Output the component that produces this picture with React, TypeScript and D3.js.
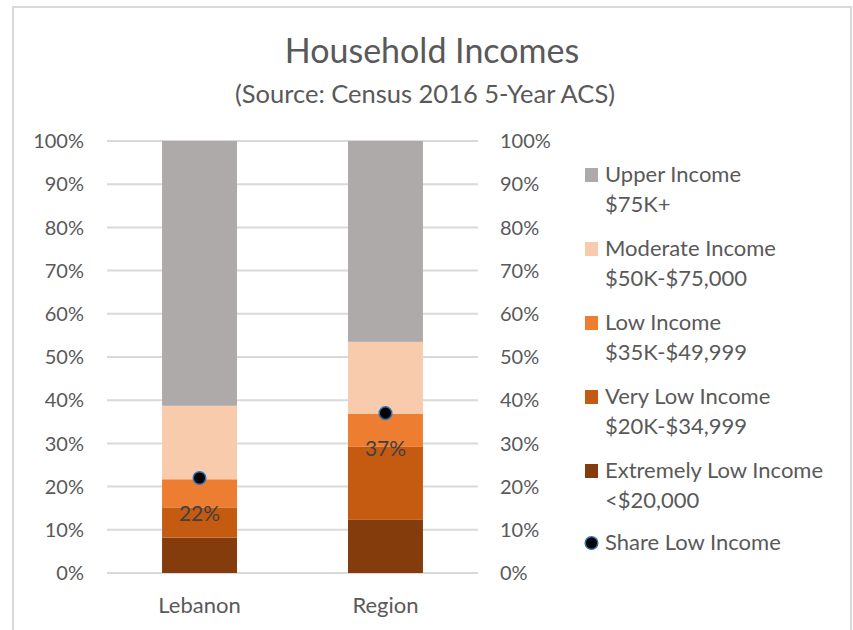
import { useEffect, useRef } from 'react'
import * as d3 from 'd3'

const W = 853
const H = 630
const MARGIN = { top: 141, left: 107, right: 375, bottom: 57 }

const CATEGORIES = ['Lebanon', 'Region']
const SERIES = ['Extremely Low Income', 'Very Low Income', 'Low Income', 'Moderate Income', 'Upper Income']
const SUBLABELS = ['<$20,000', '$20K-$34,999', '$35K-$49,999', '$50K-$75,000', '$75K+']
const COLORS = ['#843C0C', '#C55A11', '#ED7D31', '#F8CBAD', '#AEAAAA']
// share of households per band, per category (percent)
const EXTREMELY_LOW = [8.2, 12.3]
const VERY_LOW = [7.0, 16.9]
const LOW = [6.5, 7.7]
const MODERATE = [17.0, 16.6]
const UPPER = [61.3, 46.5]
const SHARE_LOW = [22, 37]
const Y_TICKS = [0, 10, 20, 30, 40, 50, 60, 70, 80, 90, 100]

const FONT = 'Lato, "Open Sans", sans-serif'
const TEXT = '#595959'

export default function App() {
  const svgRef = useRef<SVGSVGElement>(null)

  useEffect(() => {
    const svg = d3.select(svgRef.current)
    svg.selectAll('*').remove()

    const iW = W - MARGIN.left - MARGIN.right
    const iH = H - MARGIN.top - MARGIN.bottom

    const rows = CATEGORIES.map((c, i) => ({
      cat: c,
      [SERIES[0]]: EXTREMELY_LOW[i],
      [SERIES[1]]: VERY_LOW[i],
      [SERIES[2]]: LOW[i],
      [SERIES[3]]: MODERATE[i],
      [SERIES[4]]: UPPER[i],
    }))
    const stacked = d3.stack<any>().keys(SERIES)(rows)

    const x = d3.scaleBand().domain(CATEGORIES).range([0, iW]).paddingInner(0.597).paddingOuter(0.296)
    const y = d3.scaleLinear().domain([0, 100]).range([iH, 0])

    // frame
    svg.append('rect')
      .attr('x', 13).attr('y', 7).attr('width', 838).attr('height', 640)
      .attr('fill', '#fff').attr('stroke', '#d9d9d9').attr('stroke-width', 2)

    // titles
    svg.append('text')
      .attr('x', 432).attr('y', 63).attr('text-anchor', 'middle')
      .attr('font-family', FONT).attr('font-size', 34).attr('fill', TEXT)
      .text('Household Incomes')
    svg.append('text')
      .attr('x', 425).attr('y', 103).attr('text-anchor', 'middle')
      .attr('font-family', FONT).attr('font-size', 25.5).attr('fill', TEXT)
      .text('(Source: Census 2016 5-Year ACS)')

    const g = svg.append('g').attr('transform', `translate(${MARGIN.left},${MARGIN.top})`)

    // gridlines
    g.selectAll('line.grid').data(Y_TICKS).join('line')
      .attr('class', 'grid')
      .attr('x1', 0).attr('x2', iW)
      .attr('y1', d => y(d)).attr('y2', d => y(d))
      .attr('stroke', '#d9d9d9').attr('stroke-width', 2)

    // left & right axis labels
    const fmt = (d: number) => `${d}%`
    g.selectAll('text.yl').data(Y_TICKS).join('text')
      .attr('class', 'yl')
      .attr('x', -23).attr('y', d => y(d)).attr('dy', '0.36em')
      .attr('text-anchor', 'end')
      .attr('font-family', FONT).attr('font-size', 20).attr('fill', TEXT)
      .text(fmt)
    g.selectAll('text.yr').data(Y_TICKS).join('text')
      .attr('class', 'yr')
      .attr('x', iW + 22).attr('y', d => y(d)).attr('dy', '0.36em')
      .attr('text-anchor', 'start')
      .attr('font-family', FONT).attr('font-size', 20).attr('fill', TEXT)
      .text(fmt)

    // stacked bars
    stacked.forEach((s, si) => {
      g.selectAll(`rect.s${si}`).data(s).join('rect')
        .attr('class', `s${si}`)
        .attr('x', d => x(d.data.cat)!)
        .attr('width', x.bandwidth())
        .attr('y', d => y(d[1]))
        .attr('height', d => y(d[0]) - y(d[1]))
        .attr('fill', COLORS[si])
    })

    // category labels
    g.selectAll('text.cat').data(CATEGORIES).join('text')
      .attr('class', 'cat')
      .attr('x', d => x(d)! + x.bandwidth() / 2).attr('y', iH + 40)
      .attr('text-anchor', 'middle')
      .attr('font-family', FONT).attr('font-size', 22).attr('fill', TEXT)
      .text(d => d)

    // share low income markers
    const pts = CATEGORIES.map((c, i) => ({ cat: c, v: SHARE_LOW[i] }))
    g.selectAll('circle.pt').data(pts).join('circle')
      .attr('class', 'pt')
      .attr('cx', d => x(d.cat)! + x.bandwidth() / 2).attr('cy', d => y(d.v))
      .attr('r', 6.3).attr('fill', '#000').attr('stroke', '#2E75B6').attr('stroke-width', 1.5)
    g.selectAll('text.pl').data(pts).join('text')
      .attr('class', 'pl')
      .attr('x', d => x(d.cat)! + x.bandwidth() / 2).attr('y', d => y(d.v) + 43)
      .attr('text-anchor', 'middle')
      .attr('font-family', FONT).attr('font-size', 21).attr('fill', '#404040')
      .text(d => `${d.v}%`)

    // legend
    const legend = svg.append('g').attr('transform', 'translate(585,175)')
    const order = [4, 3, 2, 1, 0]
    order.forEach((si, k) => {
      const row = legend.append('g').attr('transform', `translate(0,${k * 74})`)
      row.append('rect').attr('x', 0).attr('y', -7).attr('width', 13).attr('height', 14).attr('fill', COLORS[si])
      row.append('text').attr('x', 20).attr('y', 7)
        .attr('font-family', FONT).attr('font-size', 22).attr('fill', TEXT).text(SERIES[si])
      row.append('text').attr('x', 20).attr('y', 37)
        .attr('font-family', FONT).attr('font-size', 22).attr('fill', TEXT).text(SUBLABELS[si])
    })
    const last = legend.append('g').attr('transform', `translate(0,${5 * 74 - 2})`)
    last.append('circle').attr('cx', 6.5).attr('cy', 0).attr('r', 6.3)
      .attr('fill', '#000').attr('stroke', '#2E75B6').attr('stroke-width', 1.5)
    last.append('text').attr('x', 20).attr('y', 7)
      .attr('font-family', FONT).attr('font-size', 22).attr('fill', TEXT).text('Share Low Income')
  }, [])

  return (
    <div style={{ position: 'absolute', left: 0, top: 0, width: W, height: H, overflow: 'hidden' }}>
      <svg ref={svgRef} width={W} height={H} style={{ display: 'block' }} />
    </div>
  )
}
